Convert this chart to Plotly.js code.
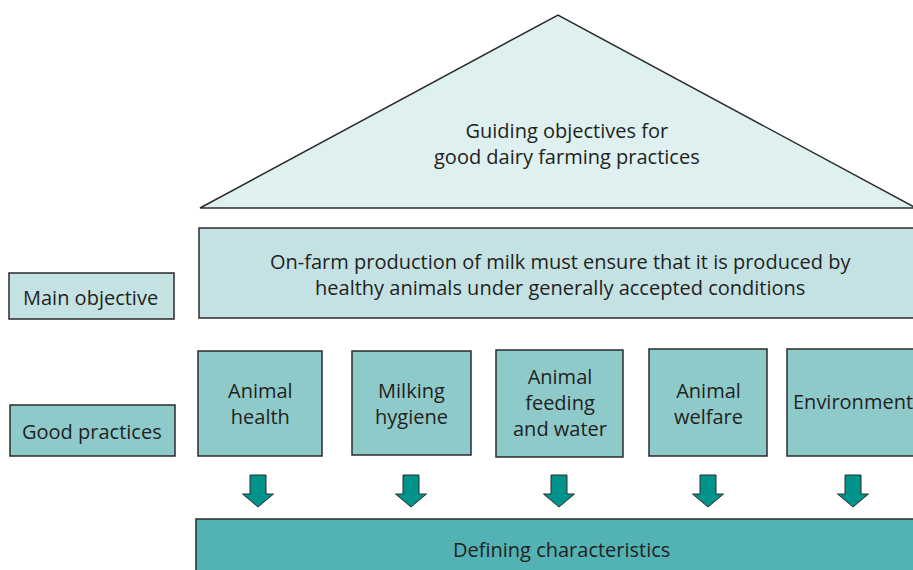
<!DOCTYPE html>
<html>
<head>
<meta charset="utf-8">
<script src="https://cdn.plot.ly/plotly-3.0.1.min.js"></script>
<style>
  html, body { margin: 0; padding: 0; background: #fff; }
  #diagram { width: 913px; height: 570px; }
</style>
</head>
<body>
<div id="diagram"></div>
<script>
// text of the diagram
const roofText = 'Guiding objectives for<br>good dairy farming practices';
const mainObjectiveText = 'On-farm production of milk must ensure that it is produced by<br>healthy animals under generally accepted conditions';
const rowLabels = ['Main objective', 'Good practices'];
const practices = ['Animal<br>health', 'Milking<br>hygiene', 'Animal<br>feeding<br>and water', 'Animal<br>welfare', 'Environment'];
const baseText = 'Defining characteristics';

// practice box edges (pixels)
const practiceLeft = [198, 352, 496, 649, 787];
const practiceRight = [322, 471, 623, 767, 920];
const practiceTop = [351, 351, 350, 349, 349];
const practiceBottom = [456, 455, 457, 456, 456];
const arrowCenter = [258, 411, 559, 708, 853];

const edge = '#2b2b2b';
const fontFamily = 'Open Sans, Noto Sans, sans-serif';
const textColor = '#231f20';

function rect(x0, y0, x1, y1, fill) {
    return {
        type: 'rect', xref: 'x', yref: 'y',
        x0: x0, y0: y0, x1: x1, y1: y1,
        fillcolor: fill,
        line: { color: edge, width: 1.5 },
        layer: 'below'
    };
}

function arrow(cx) {
    const p = 'M ' + (cx - 8) + ',475 L ' + (cx + 8) + ',475 L ' + (cx + 8) + ',494 L ' +
        (cx + 15.5) + ',494 L ' + cx + ',507 L ' + (cx - 15.5) + ',494 L ' + (cx - 8) + ',494 Z';
    return {
        type: 'path', xref: 'x', yref: 'y', path: p,
        fillcolor: '#00938b',
        line: { color: edge, width: 1 },
        layer: 'below'
    };
}

function label(x, y, text) {
    return {
        x: x, y: y, xref: 'x', yref: 'y', text: text,
        showarrow: false, xanchor: 'center', yanchor: 'middle', borderpad: 0,
        font: { family: fontFamily, size: 20, color: textColor }
    };
}

const shapes = [
    {
        type: 'path', xref: 'x', yref: 'y',
        path: 'M 200,208 L 558,15 L 916,208 Z',
        fillcolor: '#dff0f0',
        line: { color: edge, width: 1.5 },
        layer: 'below'
    },
    rect(199, 228, 920, 318, '#c4e2e4'),
    rect(9, 273, 174, 319, '#c4e2e4'),
    rect(10, 405, 175, 456, '#8fcacb'),
    rect(196, 519, 920, 580, '#52b2b4')
];

const annotations = [
    label(567, 143, roofText),
    label(560, 274, mainObjectiveText),
    label(90, 297, rowLabels[0]),
    label(92, 431, rowLabels[1]),
    label(561, 549, baseText)
];

practices.forEach((name, i) => {
    shapes.push(rect(practiceLeft[i], practiceTop[i], practiceRight[i], practiceBottom[i], '#8fcacb'));
    shapes.push(arrow(arrowCenter[i]));
    const cx = i === 4 ? 853 : (practiceLeft[i] + practiceRight[i]) / 2;
    const cy = i === 4 ? 401 : (i === 2 ? 402 : 403);
    annotations.push(label(cx, cy, name));
});

const layout = {
    width: 913,
    height: 570,
    margin: { l: 0, r: 0, t: 0, b: 0 },
    paper_bgcolor: '#ffffff',
    plot_bgcolor: '#ffffff',
    showlegend: false,
    xaxis: { range: [0, 913], visible: false, fixedrange: true },
    yaxis: { range: [570, 0], visible: false, fixedrange: true },
    shapes: shapes,
    annotations: annotations
};

Plotly.newPlot('diagram', [], layout, { displayModeBar: false, staticPlot: true });
</script>
</body>
</html>
